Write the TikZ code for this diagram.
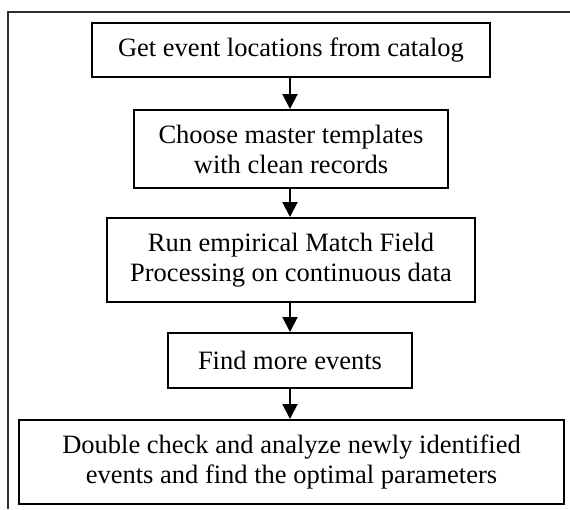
\documentclass[tikz,border=0pt]{standalone}
\usepackage{fontspec}
\setmainfont{Liberation Serif}
\usetikzlibrary{arrows.meta}
\begin{document}
\begin{tikzpicture}[x=1pt,y=-1pt,
  stepbox/.style={draw=black,line width=2pt,align=center,inner sep=0pt,
    font=\fontsize{26.5}{30}\selectfont},
  flow/.style={line width=2pt,-{Triangle[width=15pt,length=15pt]}},
  frame/.style={line width=2.2pt,draw=black!82}]
\useasboundingbox (0,0) rectangle (570,509);
% partial frame: left and top edges
\coordinate (fb) at (8,509);
\coordinate (fc) at (8,12);
\coordinate (fr) at (570,12);
\draw[frame] (fb) -- (fc) -- (fr);
% process steps
\node[stepbox,minimum width=398pt,minimum height=54pt] (s1) at (291,50)
  {Get event locations from catalog};
\node[stepbox,minimum width=314pt,minimum height=78pt] (s2) at (291,149)
  {Choose master templates\\with clean records};
\node[stepbox,minimum width=368pt,minimum height=84pt] (s3) at (291,260)
  {Run empirical Match Field\\Processing on continuous data};
\node[stepbox,minimum width=244pt,minimum height=55pt] (s4) at (290,360.5)
  {Find more events};
\node[stepbox,minimum width=545pt,minimum height=84pt] (s5) at (291.5,462)
  {Double check and analyze newly identified\\events and find the optimal parameters};
% connectors
\draw[flow] (s1.south -| 290,0) -- (s2.north -| 290,0);
\draw[flow] (s2.south -| 290,0) -- (s3.north -| 290,0);
\draw[flow] (s3.south -| 290,0) -- (s4.north -| 290,0);
\draw[flow] (s4.south -| 290,0) -- (s5.north -| 290,0);
\end{tikzpicture}
\end{document}
